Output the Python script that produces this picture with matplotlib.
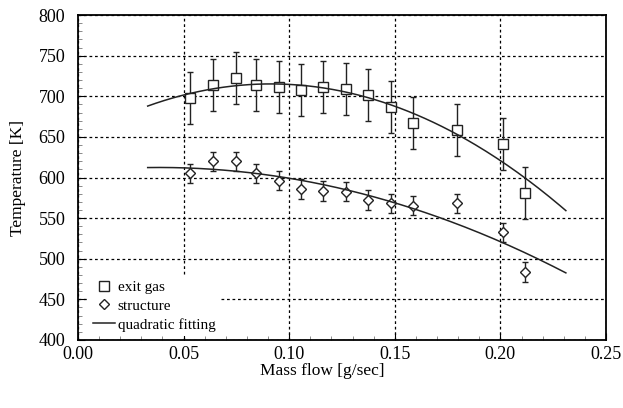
import numpy as np
import matplotlib
matplotlib.use("Agg")
import matplotlib.pyplot as plt
from matplotlib.ticker import MultipleLocator, FormatStrFormatter

plt.rcParams['font.family'] = ['Liberation Serif', 'DejaVu Serif']

# Data
mass_flow = [0.053, 0.064, 0.0747, 0.0844, 0.0952, 0.1054, 0.1162, 0.1267,
             0.1371, 0.148, 0.1588, 0.1796, 0.2014, 0.2117]
exit_gas = [697.5, 713.5, 722.5, 714, 711, 707.5, 711, 709,
            701, 687, 667, 659, 641, 581]
exit_gas_err = [32, 32, 32, 32, 32, 32, 32, 32, 32, 32, 32, 32, 32, 32]
structure = [605, 620, 620, 605, 596, 586, 583.5, 582.5,
             572.5, 568, 565.5, 568, 532.5, 483.5]
structure_err = [12, 12, 12, 12, 12, 12, 12, 12, 12, 12, 12, 12, 12, 12]
fit_range = [0.033, 0.231]

x = np.array(mass_flow)
xf = np.linspace(fit_range[0], fit_range[1], 200)
p_exit = np.polyfit(x, exit_gas, 2)
p_struct = np.polyfit(x, structure, 2)

fig = plt.figure(figsize=(6.23, 4.08), dpi=100)
ax = fig.add_axes([0.1252, 0.1667, 0.8475, 0.7965])

grid_kw = dict(color='black', lw=0.9, ls=(0, (2.2, 2.2)), zorder=0)
ax.grid(True, which='major', **grid_kw)
ax.set_axisbelow(True)

ax.errorbar(x, exit_gas, yerr=exit_gas_err, fmt='none', ecolor='#222222',
            elinewidth=1.0, capsize=2.2, capthick=1.0, zorder=3)
ax.errorbar(x, structure, yerr=structure_err, fmt='none', ecolor='#222222',
            elinewidth=1.0, capsize=2.2, capthick=1.0, zorder=3)
ax.plot(x, exit_gas, ls='none', marker='s', ms=7, mfc='white', mec='#222222',
        mew=1.0, label='exit gas', zorder=4)
ax.plot(x, structure, ls='none', marker='D', ms=5.5, mfc='white', mec='#222222',
        mew=1.0, label='structure', zorder=4)
ax.plot(xf, np.polyval(p_exit, xf), color='#222222', lw=1.1,
        label='quadratic fitting', zorder=5)
ax.plot(xf, np.polyval(p_struct, xf), color='#222222', lw=1.1, zorder=5)

ax.set_xlim(0, 0.25)
ax.set_ylim(400, 800)
ax.xaxis.set_major_locator(MultipleLocator(0.05))
ax.xaxis.set_minor_locator(MultipleLocator(0.01))
ax.yaxis.set_major_locator(MultipleLocator(50))
ax.yaxis.set_minor_locator(MultipleLocator(10))
ax.xaxis.set_major_formatter(FormatStrFormatter('%.2f'))

ax.tick_params(which='both', direction='in', top=False, right=False)
ax.tick_params(which='major', length=5, width=0.8, labelsize=13)
ax.tick_params(axis='y', which='major', pad=9)
ax.tick_params(axis='x', which='major', pad=4.5)
ax.tick_params(which='minor', length=3, width=0.6, color='#777777')

for s in ax.spines.values():
    s.set_linewidth(1.3)

ax.set_xlabel('Mass flow [g/sec]', fontsize=12.5)
ax.set_ylabel('Temperature [K]', fontsize=12.5)
ax.xaxis.set_label_coords(0.462, -0.072)
ax.yaxis.set_label_coords(-0.098, 0.5)

leg = ax.legend(loc='lower left', bbox_to_anchor=(0.019, 0.012), fontsize=11,
                frameon=True, fancybox=False,
                framealpha=1, facecolor='white', edgecolor='none',
                handlelength=1.45, handletextpad=0.2, labelspacing=0.33,
                borderpad=0.3, borderaxespad=0.0, markerscale=1.0)
leg.set_zorder(6)

fig.savefig('out.png', dpi=100)
